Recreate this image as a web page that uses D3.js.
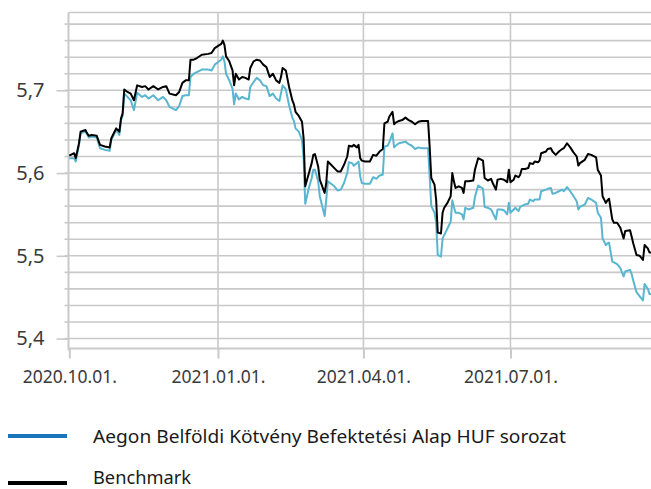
<!DOCTYPE html>
<html>
<head>
<meta charset="utf-8">
<script src="https://cdn.jsdelivr.net/npm/d3@7"></script>
<style>
  html, body { margin: 0; padding: 0; background: #fff; }
  svg { display: block; }
</style>
</head>
<body>
<svg id="chart" width="651" height="489"></svg>
<script>
// ---------------- DATA ----------------
const seriesNames = ["Aegon Belföldi Kötvény Befektetési Alap HUF sorozat", "Benchmark"];
const xTickLabels = ["2020.10.01.", "2021.01.01.", "2021.04.01.", "2021.07.01."];
const yTickLabels = ["5,4", "5,5", "5,6", "5,7"];
const yTickValues = [5.4, 5.5, 5.6, 5.7];

const dates = [
"2020-10-01","2020-10-04","2020-10-05","2020-10-07","2020-10-08","2020-10-11","2020-10-12","2020-10-13","2020-10-15","2020-10-18",
"2020-10-20","2020-10-23","2020-10-26","2020-10-27","2020-10-30","2020-11-01","2020-11-02","2020-11-03","2020-11-04","2020-11-06",
"2020-11-08","2020-11-10","2020-11-12","2020-11-15","2020-11-17","2020-11-19","2020-11-22","2020-11-25","2020-11-28","2020-11-30",
"2020-12-02","2020-12-06","2020-12-08","2020-12-10","2020-12-12","2020-12-14","2020-12-15","2020-12-17","2020-12-19","2020-12-22",
"2020-12-26","2020-12-28","2020-12-30","2021-01-03","2021-01-04","2021-01-05","2021-01-06","2021-01-08","2021-01-10","2021-01-11",
"2021-01-12","2021-01-14","2021-01-16","2021-01-18","2021-01-20","2021-01-21","2021-01-23","2021-01-25","2021-01-27","2021-01-29",
"2021-01-31","2021-02-02","2021-02-04","2021-02-06","2021-02-08","2021-02-09","2021-02-10","2021-02-12","2021-02-14","2021-02-16",
"2021-02-17","2021-02-18","2021-02-20","2021-02-22","2021-02-23","2021-02-24","2021-02-26","2021-02-28","2021-03-01","2021-03-02",
"2021-03-04","2021-03-05","2021-03-08","2021-03-09","2021-03-10","2021-03-12","2021-03-14","2021-03-16","2021-03-18","2021-03-20",
"2021-03-22","2021-03-23","2021-03-25","2021-03-26","2021-03-28","2021-03-29","2021-03-30","2021-03-31","2021-04-02","2021-04-05",
"2021-04-07","2021-04-09","2021-04-11","2021-04-13","2021-04-14","2021-04-16","2021-04-17","2021-04-19","2021-04-20","2021-04-21",
"2021-04-23","2021-04-25","2021-04-27","2021-04-29","2021-05-01","2021-05-03","2021-05-05","2021-05-07","2021-05-11","2021-05-12",
"2021-05-13","2021-05-15","2021-05-16","2021-05-17","2021-05-19","2021-05-20","2021-05-21","2021-05-23","2021-05-25","2021-05-26",
"2021-05-27","2021-05-28","2021-05-30","2021-06-01","2021-06-02","2021-06-03","2021-06-05","2021-06-08","2021-06-09","2021-06-11",
"2021-06-14","2021-06-15","2021-06-17","2021-06-19","2021-06-20","2021-06-22","2021-06-23","2021-06-25","2021-06-27","2021-06-29",
"2021-06-30","2021-07-01","2021-07-03","2021-07-04","2021-07-06","2021-07-07","2021-07-08","2021-07-10","2021-07-12","2021-07-13",
"2021-07-15","2021-07-16","2021-07-18","2021-07-19","2021-07-20","2021-07-23","2021-07-24","2021-07-26","2021-07-27","2021-07-29",
"2021-07-31","2021-08-02","2021-08-03","2021-08-05","2021-08-07","2021-08-09","2021-08-11","2021-08-12","2021-08-13","2021-08-16",
"2021-08-18","2021-08-20","2021-08-23","2021-08-24","2021-08-26","2021-08-27","2021-08-29","2021-08-30","2021-08-31","2021-09-02",
"2021-09-03","2021-09-05","2021-09-07","2021-09-09","2021-09-10","2021-09-13","2021-09-14","2021-09-15","2021-09-17","2021-09-19",
"2021-09-21","2021-09-22","2021-09-24","2021-09-25","2021-09-26"
];

const benchmark = [
5.621,5.624,5.618,5.636,5.650,5.652,5.648,5.645,5.646,5.645,
5.634,5.632,5.631,5.642,5.654,5.650,5.666,5.672,5.701,5.698,
5.696,5.688,5.706,5.704,5.705,5.701,5.705,5.701,5.704,5.705,
5.696,5.694,5.698,5.709,5.712,5.712,5.737,5.737,5.739,5.743,
5.744,5.745,5.751,5.756,5.760,5.755,5.741,5.735,5.724,5.706,
5.720,5.713,5.716,5.715,5.713,5.727,5.735,5.737,5.736,5.731,
5.728,5.716,5.720,5.712,5.709,5.716,5.727,5.724,5.704,5.688,
5.683,5.674,5.669,5.662,5.642,5.584,5.598,5.612,5.622,5.623,
5.608,5.592,5.576,5.588,5.614,5.610,5.606,5.602,5.602,5.610,
5.620,5.633,5.632,5.634,5.631,5.634,5.618,5.615,5.614,5.614,
5.622,5.621,5.626,5.629,5.660,5.662,5.668,5.674,5.659,5.661,
5.663,5.664,5.667,5.664,5.662,5.659,5.662,5.663,5.663,5.632,
5.594,5.586,5.568,5.528,5.527,5.552,5.558,5.564,5.572,5.600,
5.590,5.582,5.584,5.582,5.576,5.590,5.590,5.591,5.604,5.618,
5.615,5.594,5.591,5.593,5.588,5.580,5.592,5.593,5.592,5.589,
5.604,5.589,5.592,5.597,5.595,5.598,5.605,5.605,5.606,5.612,
5.611,5.614,5.613,5.615,5.624,5.626,5.629,5.630,5.626,5.622,
5.626,5.629,5.630,5.636,5.631,5.625,5.620,5.609,5.612,5.616,
5.623,5.622,5.619,5.604,5.597,5.572,5.564,5.567,5.569,5.544,
5.540,5.540,5.534,5.521,5.530,5.531,5.523,5.515,5.501,5.500,
5.495,5.513,5.509,5.504,5.504
];

const fund = [
5.618,5.618,5.614,5.634,5.648,5.650,5.647,5.643,5.644,5.643,
5.630,5.628,5.627,5.640,5.652,5.646,5.664,5.669,5.696,5.692,
5.688,5.676,5.697,5.692,5.694,5.690,5.694,5.688,5.692,5.688,
5.680,5.676,5.681,5.693,5.694,5.694,5.716,5.720,5.722,5.725,
5.725,5.724,5.731,5.737,5.741,5.735,5.720,5.712,5.702,5.683,
5.696,5.689,5.692,5.690,5.689,5.704,5.710,5.715,5.712,5.706,
5.705,5.693,5.696,5.690,5.687,5.696,5.706,5.701,5.682,5.667,
5.663,5.654,5.650,5.640,5.618,5.563,5.580,5.594,5.604,5.604,
5.590,5.572,5.548,5.568,5.590,5.587,5.584,5.579,5.580,5.588,
5.600,5.613,5.612,5.609,5.612,5.614,5.596,5.588,5.587,5.587,
5.595,5.593,5.597,5.598,5.632,5.633,5.637,5.648,5.631,5.633,
5.636,5.637,5.638,5.635,5.633,5.629,5.631,5.630,5.630,5.596,
5.560,5.552,5.540,5.501,5.499,5.521,5.525,5.533,5.541,5.567,
5.559,5.552,5.552,5.550,5.544,5.558,5.556,5.558,5.571,5.585,
5.581,5.559,5.558,5.556,5.552,5.544,5.556,5.556,5.555,5.550,
5.564,5.552,5.556,5.558,5.554,5.559,5.560,5.562,5.563,5.568,
5.566,5.568,5.568,5.568,5.578,5.580,5.581,5.582,5.575,5.576,
5.578,5.580,5.578,5.583,5.578,5.572,5.566,5.556,5.559,5.562,
5.570,5.568,5.564,5.552,5.546,5.521,5.513,5.515,5.516,5.493,
5.492,5.490,5.485,5.475,5.481,5.483,5.478,5.470,5.456,5.451,
5.446,5.466,5.460,5.454,5.454
];

// ---------------- CHART ----------------
const plot = { left: 68.5, top: 12.5, bottom: 348.5, right: 651 };
const parse = d3.timeParse("%Y-%m-%d");

const x = d3.scaleTime()
  .domain([parse("2020-10-01"), parse("2021-09-30")])
  .range([69.3, 69.3 + 364 * 1.616]);

const y = d3.scaleLinear()
  .domain([5.388, 5.794])
  .range([plot.bottom, plot.top]);

const svg = d3.select("#chart");
const gridColor = "#c9c9c9";
const textColor = "#3a3a3a";

// horizontal gridlines every 0.02
const gridVals = d3.range(0, 20).map(i => +(5.4 + i * 0.02).toFixed(2));
svg.append("g").selectAll("line").data(gridVals).join("line")
  .attr("x1", plot.left).attr("x2", plot.right)
  .attr("y1", d => y(d)).attr("y2", d => y(d))
  .attr("stroke", gridColor).attr("stroke-width", 1.6);

// top border
svg.append("line")
  .attr("x1", plot.left).attr("x2", plot.right)
  .attr("y1", plot.top).attr("y2", plot.top)
  .attr("stroke", gridColor).attr("stroke-width", 1.6);

// vertical gridlines at tick dates
const xTickDates = ["2020-10-01", "2021-01-01", "2021-04-01", "2021-07-01"].map(parse);
svg.append("g").selectAll("line").data(xTickDates.slice(1)).join("line")
  .attr("x1", d => x(d)).attr("x2", d => x(d))
  .attr("y1", plot.top).attr("y2", plot.bottom)
  .attr("stroke", gridColor).attr("stroke-width", 1.6);

// minor y ticks
svg.append("g").selectAll("line").data(gridVals).join("line")
  .attr("x1", plot.left - 4).attr("x2", plot.left)
  .attr("y1", d => y(d)).attr("y2", d => y(d))
  .attr("stroke", gridColor).attr("stroke-width", 1.6);

// y axis
const yAxis = d3.axisLeft(y)
  .tickValues(yTickValues)
  .tickSize(12)
  .tickPadding(12)
  .tickFormat((d, i) => yTickLabels[i]);
const gy = svg.append("g").attr("transform", `translate(${plot.left},0)`).call(yAxis);
gy.select(".domain").attr("d", `M0,${plot.top}V${plot.bottom + 2}`)
  .attr("stroke", gridColor).attr("stroke-width", 2);
gy.selectAll(".tick line").attr("stroke", gridColor).attr("stroke-width", 1.6);
gy.selectAll(".tick text")
  .attr("fill", textColor)
  .style("font-family", "'Noto Sans', 'Open Sans', sans-serif")
  .style("font-size", "20px");

// x axis
const xAxis = d3.axisBottom(x)
  .tickValues(xTickDates)
  .tickSize(10)
  .tickPadding(12)
  .tickFormat((d, i) => xTickLabels[i]);
const gx = svg.append("g").attr("transform", `translate(0,${plot.bottom})`).call(xAxis);
gx.select(".domain").attr("d", `M${plot.left},0H${plot.right}`)
  .attr("stroke", gridColor).attr("stroke-width", 1.8);
gx.selectAll(".tick line").attr("stroke", gridColor).attr("stroke-width", 2);
gx.selectAll(".tick text")
  .attr("fill", textColor)
  .style("font-family", "'Noto Sans', 'Open Sans', sans-serif")
  .style("font-size", "17.5px");

// lines
const rows = dates.map((d, i) => ({ date: parse(d), fund: fund[i], bench: benchmark[i] }));
const lineFund = d3.line().x(d => x(d.date)).y(d => y(d.fund));
const lineBench = d3.line().x(d => x(d.date)).y(d => y(d.bench));

svg.append("path").datum(rows)
  .attr("d", lineFund).attr("fill", "none")
  .attr("stroke", "#5ab6d0").attr("stroke-width", 2)
  .attr("stroke-linejoin", "round");
svg.append("path").datum(rows)
  .attr("d", lineBench).attr("fill", "none")
  .attr("stroke", "#000000").attr("stroke-width", 2)
  .attr("stroke-linejoin", "round");

// legend
const legendItems = [
  { name: seriesNames[0], color: "#1a75bb", y: 436, len: 473, base: 443 },
  { name: seriesNames[1], color: "#000000", y: 483, len: 98, base: 484 }
];
const lg = svg.append("g");
legendItems.forEach(it => {
  lg.append("line")
    .attr("x1", 8).attr("x2", 67)
    .attr("y1", it.y).attr("y2", it.y)
    .attr("stroke", it.color).attr("stroke-width", 4);
  lg.append("text")
    .attr("x", 93).attr("y", it.base)
    .attr("fill", "#1a1a1a")
    .attr("textLength", it.len)
    .attr("lengthAdjust", "spacingAndGlyphs")
    .style("font-family", "'Noto Sans', sans-serif")
    .style("font-size", "18px")
    .text(it.name);
});
</script>
</body>
</html>
